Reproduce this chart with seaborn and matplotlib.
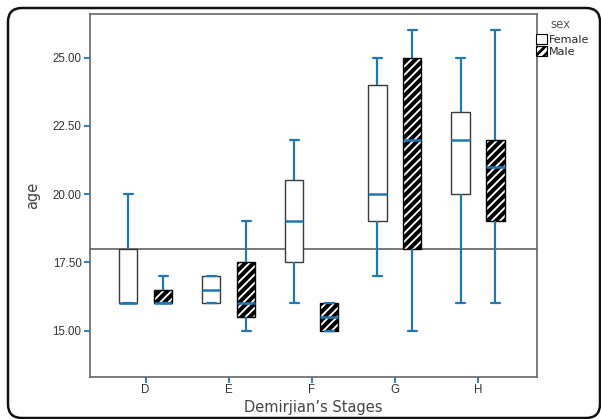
import numpy as np
import pandas as pd
import matplotlib
matplotlib.use("Agg")
import matplotlib.pyplot as plt
from matplotlib.patches import FancyBboxPatch, Patch
import seaborn as sns

# five-number summaries (min, q1, median, q3, max)
stages = ["D", "E", "F", "G", "H"]
female_min = [16, 16, 16, 17, 16]
female_q1 = [16, 16, 17.5, 19, 20]
female_med = [16, 16.5, 19, 20, 22]
female_q3 = [18, 17, 20.5, 24, 23]
female_max = [20, 17, 22, 25, 25]
male_min = [16, 15, 15, 15, 16]
male_q1 = [16, 15.5, 15, 18, 19]
male_med = [16, 16, 15.5, 22, 21]
male_q3 = [16.5, 17.5, 16, 25, 22]
male_max = [17, 19, 16, 26, 26]
ref_age = 18

rows = []
for sex, cols in [("Female", [female_min, female_q1, female_med, female_q3, female_max]),
                  ("Male", [male_min, male_q1, male_med, male_q3, male_max])]:
    for i, st in enumerate(stages):
        for c in cols:
            rows.append({"stage": st, "sex": sex, "age": c[i]})
df = pd.DataFrame(rows)

sns.set_style("white")
plt.rcParams["font.family"] = ["Liberation Sans", "DejaVu Sans"]

blue = "#1f77b4"
edge = "#3a3a3a"

fig = plt.figure(figsize=(6.01, 4.19), dpi=100)
ax = fig.add_axes([90 / 601, 1 - 377 / 419, 447 / 601, 363 / 419])

sns.boxplot(data=df, x="stage", y="age", hue="sex", order=stages,
            hue_order=["Female", "Male"], whis=(0, 100), width=0.84, gap=0.48,
            palette={"Female": "white", "Male": "white"}, linewidth=1.0,
            linecolor=edge, fliersize=0, legend=False,
            whiskerprops=dict(color=blue, linewidth=1.6),
            capprops=dict(color=blue, linewidth=1.6),
            medianprops=dict(color=blue, linewidth=1.8),
            boxprops=dict(edgecolor=edge), ax=ax)

n = len(stages)
for patch in ax.patches[n:2 * n]:
    patch.set_hatch("////")
    patch.set_edgecolor("black")
    patch.set_facecolor("white")
    patch.set_hatch_linewidth(2.9)

ax.axhline(ref_age, color="#555555", linewidth=1.1, zorder=0.5)

ax.set_xlim(-0.67, 4.71)
ax.set_ylim(13.3, 26.6)
ax.set_yticks([15, 17.5, 20, 22.5, 25])
ax.set_yticklabels(["%.2f" % v for v in [15, 17.5, 20, 22.5, 25]])
ax.tick_params(axis="both", which="both", length=4, width=1.3, color=blue,
               labelsize=8.3, labelcolor="#333333", pad=2, direction="out")
ax.tick_params(axis="x", pad=1)
ax.tick_params(axis="y", left=True)
ax.tick_params(axis="x", bottom=True)
for sp in ax.spines.values():
    sp.set_color("#666666")
    sp.set_linewidth(1.2)

ax.set_xlabel("Demirjian\u2019s Stages", fontsize=10.5, color="#444444", labelpad=3,
              family="DejaVu Sans")
ax.set_ylabel("age", fontsize=10.5, color="#444444", labelpad=9,
              family="DejaVu Sans")

# legend outside to the right, title drawn on its own line
fig.text(560 / 601, 1 - 24 / 419, "sex", ha="center", va="center",
         fontsize=8.5, color="#555555", family="DejaVu Sans")
handles = [Patch(facecolor="white", edgecolor="black", linewidth=0.8, label="Female"),
           Patch(facecolor="white", edgecolor="black", linewidth=0.8, hatch="////", label="Male")]
leg = fig.legend(handles=handles, loc="upper left",
                 bbox_to_anchor=(536 / 601, 1 - 34 / 419), frameon=False,
                 prop={"family": "DejaVu Sans", "size": 8},
                 handlelength=1.0, handleheight=1.0, borderpad=0,
                 handletextpad=0.15, labelspacing=0.1, borderaxespad=0)
for h in leg.legend_handles:
    h.set_hatch_linewidth(2.0)

frame = FancyBboxPatch((8, 1), 592, 410, boxstyle="round,pad=0,rounding_size=14",
                       transform=None, facecolor="none", edgecolor="#111111",
                       linewidth=1.8)
fig.patches.append(frame)

fig.savefig("out.png", dpi=100)
